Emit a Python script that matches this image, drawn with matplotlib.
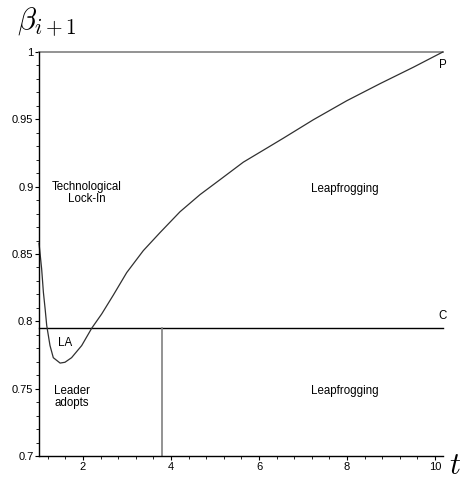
import matplotlib
matplotlib.use("Agg")
import matplotlib.pyplot as plt
from matplotlib.ticker import MultipleLocator

t_vals = [1.0, 1.06, 1.10, 1.14, 1.175, 1.25, 1.325, 1.48, 1.59, 1.74, 1.97, 2.2,
          2.425, 2.689, 2.993, 3.37, 3.75, 4.205, 4.659, 5.114, 5.643, 6.175, 6.552,
          7.234, 7.993, 8.75, 9.507, 10.175]
beta_vals = [0.858, 0.839, 0.8215, 0.809, 0.797, 0.782, 0.773, 0.769, 0.7696, 0.773,
             0.782, 0.795, 0.8055, 0.8195, 0.8362, 0.8525, 0.8659, 0.8814, 0.8941,
             0.9052, 0.9182, 0.9286, 0.936, 0.9497, 0.9638, 0.9765, 0.9887, 1.0]
P_level = 1.0
C_level = 0.795
t_cut = 3.79
t_min, t_max = 1.0, 10.18
x_ticks = [2, 4, 6, 8, 10]
y_ticks = [0.7, 0.75, 0.8, 0.85, 0.9, 0.95, 1.0]
y_labels = ["0.7", "0.75", "0.8", "0.85", "0.9", "0.95", "1"]

plt.rcParams['font.family'] = ['Liberation Sans', 'DejaVu Sans']
plt.rcParams['mathtext.fontset'] = 'cm'

fig = plt.figure(figsize=(4.64, 4.83), dpi=100)
ax = fig.add_axes([39/464, 1-456/483, (443-39)/464, (456-52)/483])

ax.plot([t_min, t_max], [P_level, P_level], color='#808080', lw=1.2, clip_on=False)
ax.plot([t_min, t_max], [C_level, C_level], color='black', lw=1.0, clip_on=False)
ax.plot([t_cut, t_cut], [0.7, C_level], color='#808080', lw=1.2)
ax.plot(t_vals, beta_vals, color='#303030', lw=0.9, clip_on=False)

ax.set_xlim(t_min, t_max)
ax.set_ylim(0.7, 1.0)
for s in ['top', 'right']:
    ax.spines[s].set_visible(False)
ax.spines['left'].set_linewidth(1.0)
ax.spines['bottom'].set_linewidth(1.0)

ax.set_xticks(x_ticks)
ax.set_yticks(y_ticks)
ax.set_yticklabels(y_labels)
ax.xaxis.set_minor_locator(MultipleLocator(0.4))
ax.yaxis.set_minor_locator(MultipleLocator(0.01))
ax.tick_params(axis='both', which='major', length=3, width=0.8, labelsize=8, pad=1, direction='out')
ax.tick_params(axis='both', which='minor', length=2, width=0.6, direction='out')

fs = 8.3
ax.text(2.09, 0.895, "Technological\nLock-In", ha='center', va='center', fontsize=fs, linespacing=1.0)
ax.text(7.95, 0.8985, "Leapfrogging", ha='center', va='center', fontsize=fs)
ax.text(7.95, 0.7486, "Leapfrogging", ha='center', va='center', fontsize=fs)
ax.text(1.74, 0.744, "Leader\nadopts", ha='center', va='center', fontsize=fs, linespacing=1.0)
ax.text(1.59, 0.784, "LA", ha='center', va='center', fontsize=fs)
ax.text(10.18, 0.99, "P", ha='center', va='center', fontsize=fs, clip_on=False)
ax.text(10.18, 0.804, "C", ha='center', va='center', fontsize=fs, clip_on=False)

fig.text(47/464, 1-22/483, r"$\beta_{i+1}$", fontsize=22, ha='center', va='center')
fig.text(455/464, 1-466/483, r"$t$", fontsize=22, ha='center', va='center')

fig.savefig("out.png", dpi=100)
